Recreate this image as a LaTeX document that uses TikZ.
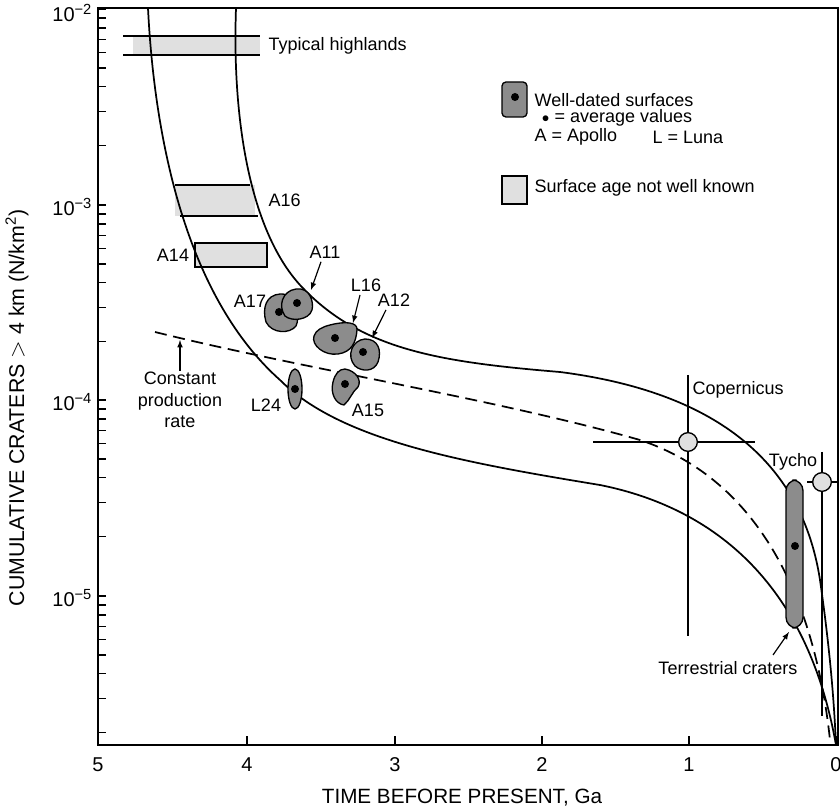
\documentclass[tikz,border=0pt]{standalone}
\usepackage{fontspec}
\setmainfont{Liberation Sans}
\newcommand{\pw}[1]{10\raisebox{5pt}{\fontsize{11}{11}\selectfont −#1}}
\begin{document}
\begin{tikzpicture}[x=0.75pt,y=-0.75pt,
  lbl/.style={font=\fontsize{13.5}{16}\selectfont,inner sep=1pt},
  blob/.style={draw,line width=1pt,fill=black!45},
  lite/.style={draw,line width=1pt,fill=black!12},
  dotm/.style={circle,fill=black,inner sep=0pt,minimum size=6pt},
  crv/.style={line width=1.3pt},
  arr/.style={-latex,line width=0.9pt}]
\useasboundingbox (0,0) rectangle (840,809);
% frame
\draw[line width=1.5pt] (98,8) -- (98,745) -- (838,745) -- (838,8) -- cycle;
% y ticks
\foreach \d/\yy in {0/9,1/205,2/400,3/596}{
  \draw[line width=1pt] (98,\yy) -- (106,\yy);
  \foreach \m in {2,...,9}{
    \pgfmathsetmacro{\yt}{\yy+195.7*(1-log10(\m))}
    \ifdim \yt pt<745pt \draw[line width=0.9pt] (98,\yt) -- (106,\yt);\fi}}
\node[lbl,font=\fontsize{15}{17}\selectfont,anchor=east] (y2) at (93,13) {\pw{2}};
\node[lbl,font=\fontsize{15}{17}\selectfont,anchor=east] (y3) at (93,207) {\pw{3}};
\node[lbl,font=\fontsize{15}{17}\selectfont,anchor=east] (y4) at (93,402) {\pw{4}};
\node[lbl,font=\fontsize{15}{17}\selectfont,anchor=east] (y5) at (93,598) {\pw{5}};
% x ticks
\foreach \v/\xx in {5/98,4/247,3/395,2/542,1/689,0/836}{
  \draw[line width=1pt] (\xx,745) -- (\xx,736);
  \node[lbl,font=\fontsize{15}{17}\selectfont] at (\xx,765) {\v};}
\node[lbl,font=\fontsize{15.5}{17}\selectfont] (xl) at (462,798) {TIME BEFORE PRESENT, Ga};
\node[lbl,rotate=90,font=\fontsize{16}{18}\selectfont] (yl) at (17,408) {CUMULATIVE CRATERS $>$ 4 km (N/km\textsuperscript{2})};
% shaded rects
\fill[black!12] (133,37) rectangle (260,54);
\draw[line width=1pt] (123,36) -- (260,36) (123,55) -- (260,55);
\node[lbl,anchor=west] (th) at (267,46) {Typical highlands};
\fill[black!12] (175,185) rectangle (255,216);
\draw[line width=1pt] (175,185) -- (250,185) (180,216) -- (258,216);
\node[lbl,anchor=west] (a16) at (267,200) {A16};
\draw[lite] (195,243) rectangle (267,267);
\node[lbl] (a14) at (173,255) {A14};
% curves
\draw[crv] (236,8) .. controls (232,120) and (250,230) .. (300,285)
  .. controls (360,350) and (440,362) .. (560,372)
  .. controls (700,390) and (800,450) .. (820,580)
  .. controls (830,650) and (834,700) .. (836,745);
\draw[crv] (148,8) .. controls (155,150) and (190,300) .. (280,380)
  .. controls (340,440) and (460,462) .. (600,485)
  .. controls (700,505) and (805,570) .. (836,745);
\draw[crv,dash pattern=on 9pt off 5pt] (155,332) .. controls (300,368) and (500,400) .. (640,440)
  .. controls (760,480) and (815,600) .. (830,740);
% blobs
\draw[blob] (280,294) .. controls (298,293) and (300,318) .. (296,326) .. controls (290,334) and (272,334) .. (266,322) .. controls (262,308) and (266,295) .. (280,294) -- cycle;
\node[dotm] (d17) at (279,312) {};
\draw[blob] (296,289) .. controls (310,287) and (314,302) .. (312,310) .. controls (309,320) and (292,322) .. (285,316) .. controls (278,306) and (282,291) .. (296,289) -- cycle;
\node[dotm] (d11) at (297,303) {};
\draw[blob] (330,325) .. controls (345,321) and (358,322) .. (357,330) .. controls (356,342) and (352,352) .. (338,354) .. controls (324,356) and (311,345) .. (314,336) .. controls (316,330) and (322,327) .. (330,325) -- cycle;
\node[dotm] (d16) at (335,338) {};
\draw[blob] (365,339) .. controls (378,339) and (382,350) .. (378,362) .. controls (374,372) and (362,372) .. (355,366) .. controls (346,356) and (352,340) .. (365,339) -- cycle;
\node[dotm] (d12) at (363,352) {};
\draw[blob] (345,369) .. controls (356,371) and (362,380) .. (358,387) .. controls (352,392) and (350,400) .. (344,405) .. controls (336,404) and (330,394) .. (333,382) .. controls (335,374) and (339,369) .. (345,369) -- cycle;
\node[dotm] (d15) at (345,384) {};
\draw[blob] (295,389) ellipse (7 and 20);
\node[dotm] (d24) at (295,389) {};
\draw[blob,rounded corners=8pt] (786,480) rectangle (803,628);
\node[dotm] (dt) at (795,546) {};
% labels + arrows
\node[lbl] (l17) at (250,301) {A17};
\node[lbl] (l11) at (325,252) {A11};
\node[lbl] (l16) at (366,285) {L16};
\node[lbl] (l12) at (394,300) {A12};
\node[lbl] (l24) at (266,405) {L24};
\node[lbl] (l15) at (368,410) {A15};
\coordinate (t11) at (311,290);
\coordinate (t16) at (353,323);
\coordinate (t12) at (372,338);
\draw[arr] (l11.south) ++(-4,2) -- (t11);
\draw[arr] (l16.south) ++(-6,2) -- (t16);
\draw[arr] (l12.south) ++(-8,2) -- (t12);
\node[lbl,align=center] (cpr) at (180,400) {Constant\\production\\rate};
\coordinate (tc) at (180,340);
\draw[arr] (cpr.north) -- (tc);
% Copernicus
\draw[line width=1pt] (688,375) -- (688,636) (593,442) -- (755,442);
\node[circle,draw,line width=1pt,fill=black!12,minimum size=14pt,inner sep=0pt] (cop) at (688,442) {};
\node[lbl,anchor=west] (lcop) at (691,390) {Copernicus};
% Tycho
\draw[line width=1pt] (822,452) -- (822,716) (807,482) -- (838,482);
\node[circle,draw,line width=1pt,fill=black!12,minimum size=14pt,inner sep=0pt] (ty) at (822,482) {};
\node[lbl] (lty) at (793,462) {Tycho};
\node[lbl] (lter) at (728,668) {Terrestrial craters};
\coordinate (tt) at (789,632);
\draw[arr] (773,655) -- (tt);
% legend
\draw[blob,rounded corners=3pt] (502,82) rectangle (527,117);
\node[dotm] (ld) at (515,97) {};
\node[lbl,anchor=west] (lg1) at (533,100) {Well-dated surfaces};
\node[lbl,anchor=west] (lg2) at (540,118) {\fontsize{10}{10}\selectfont●\fontsize{13.5}{16}\selectfont\ = average values};
\node[lbl,anchor=west] (lg3) at (533,137) {A = Apollo};
\node[lbl,anchor=west] (lg4) at (651,137) {L = Luna};
\draw[lite] (502,176) rectangle (527,204);
\node[lbl,anchor=west] (lg5) at (533,188) {Surface age not well known};
\end{tikzpicture}
\end{document}
